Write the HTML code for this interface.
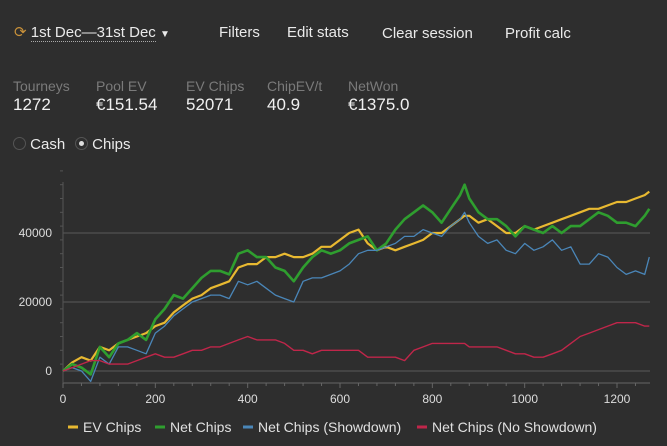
<!DOCTYPE html>
<html><head><meta charset="utf-8">
<style>
body{margin:0;background:#2e2e2e;width:667px;height:446px;overflow:hidden;font-family:"Liberation Sans",sans-serif;color:#e6e6e6}
.t{position:absolute;white-space:nowrap}
.lab{font-size:14px;color:#7a7a7a}
.val{font-size:17px;color:#f0f0f0}
.nav{font-size:15px;color:#eaeaea}
</style></head><body>
<div class="t nav" style="left:14px;top:23px">
<span style="color:#c8913a;font-size:15px">⟳</span> <span style="border-bottom:1px dotted #aaa">1st Dec—31st Dec</span> <span style="font-size:10px">▼</span></div>
<div class="t nav" style="left:219px;top:24px">Filters</div>
<div class="t nav" style="left:287px;top:24px">Edit stats</div>
<div class="t nav" style="left:382px;top:25px">Clear session</div>
<div class="t nav" style="left:505px;top:25px">Profit calc</div>

<div class="t lab" style="left:13px;top:78px">Tourneys</div>
<div class="t val" style="left:13px;top:95px">1272</div>
<div class="t lab" style="left:96px;top:78px">Pool EV</div>
<div class="t val" style="left:96px;top:95px">€151.54</div>
<div class="t lab" style="left:186px;top:78px">EV Chips</div>
<div class="t val" style="left:186px;top:95px">52071</div>
<div class="t lab" style="left:267px;top:78px">ChipEV/t</div>
<div class="t val" style="left:267px;top:95px">40.9</div>
<div class="t lab" style="left:348px;top:78px">NetWon</div>
<div class="t val" style="left:348px;top:95px">€1375.0</div>

<div class="t nav" style="left:13px;top:136px"><span style="display:inline-block;width:11px;height:11px;border:1px solid #555;border-radius:50%;vertical-align:-1px"></span> Cash</div>
<div class="t nav" style="left:75px;top:136px"><span style="display:inline-block;width:11px;height:11px;border:1px solid #555;border-radius:50%;vertical-align:-1px;position:relative"><span style="position:absolute;left:3px;top:3px;width:5px;height:5px;border-radius:50%;background:#ddd"></span></span> Chips</div>

<svg id="chart" width="667" height="446" style="position:absolute;left:0;top:0;pointer-events:none"></svg>
<script>
const xs=[0,20,40,60,80,100,120,140,160,180,200,220,240,260,280,300,320,340,360,380,400,420,440,460,480,500,520,540,560,580,600,620,640,660,680,700,720,740,760,780,800,820,840,860,870,880,900,920,940,960,980,1000,1020,1040,1060,1080,1100,1120,1140,1160,1180,1200,1220,1240,1260,1270];
const evChips=[0,2.5,4,3,7,6,8,9,10,11,13,14,17,19,21,22,24,25,26,30,31,31,33,33,34,33,33,34,36,36,38,40,41,37,35,36,35,36,37,38,40,40,42,44,45,45,43,44,42,40,40,42,41,42,43,44,45,46,47,47,48,49,49,50,51,52];
const netChips=[0,2,1,-1,7,4,8,9,11,9,15,18,22,21,24,27,29,29,28,34,35,33,33,30,29,26,30,33,35,34,35,37,38,39,35,37,41,44,46,48,46,43,47,51,54,50,46,44,44,42,39,42,41,40,42,40,42,42,44,46,45,43,43,42,45,47];
const netSD=[0,1,0,-3,4,2,7,7,6,5,11,13,16,18,20,21,22,22,21,26,25,26,24,22,21,20,26,27,27,28,29,31,34,35,35,36,37,39,39,41,40,39,42,44,46,43,39,37,38,35,34,37,35,36,38,35,36,31,31,34,33,30,28,29,28,33];
const netNoSD=[0,1,2,3,3,2,2,2,3,4,5,4,4,5,6,6,7,7,8,9,10,9,9,9,8,6,6,5,6,6,6,6,6,4,4,4,4,3,6,7,8,8,8,8,8,7,7,7,7,6,5,5,4,4,5,6,8,10,11,12,13,14,14,14,13,13];
const xTicks=[0,200,400,600,800,1000,1200];
const yTicks=[0,20000,40000];
const series=[["ev-chips-line",evChips,"#e8b931",2.2],["net-chips-line",netChips,"#2f9e2f",2.6],["net-chips-showdown-line",netSD,"#4a86b8",1.3],["net-chips-no-showdown-line",netNoSD,"#c0264a",1.4]];
const legend=[["EV Chips","#e8b931",68],["Net Chips","#2f9e2f",155],["Net Chips (Showdown)","#4a86b8",243],["Net Chips (No Showdown)","#c0264a",417]];
const NS="http://www.w3.org/2000/svg",svg=document.getElementById('chart');
const X=v=>63+v*(554/1200), Y=v=>371-v*0.00345;
function el(t,a,p){const e=document.createElementNS(NS,t);for(const k in a)e.setAttribute(k,a[k]);(p||svg).appendChild(e);return e;}
yTicks.forEach(v=>{
 const g=el('line',{x1:63,x2:650,y1:Y(v),y2:Y(v),stroke:'#5a5a5a','stroke-width':1});
 
 
 const t=el('text',{x:52,y:Y(v)+4,'text-anchor':'end',fill:'#ddd','font-size':12,'font-family':'Liberation Sans'});t.textContent=v;
 
 
});
const ax=el('line',{x1:63,x2:650,y1:383,y2:383,stroke:'#666'});


const ay=el('line',{x1:63,x2:63,y1:182,y2:383,stroke:'#555'});


for(let v=0;v<=1270;v+=40){const m=v%200===0;el('line',{x1:X(v),x2:X(v),y1:383,y2:m?388:386,stroke:'#666'});}
for(let v=2000;v<=58000;v+=4000){el('line',{x1:60,x2:63,y1:Y(v),y2:Y(v),stroke:'#555'});}
xTicks.forEach(v=>{const t=el('text',{x:X(v),y:403,'text-anchor':'middle',fill:'#ddd','font-size':12,'font-family':'Liberation Sans'});t.textContent=v;
 
 });
series.forEach(s=>{
 const p=el('polyline',{points:xs.map((x,i)=>X(x).toFixed(1)+','+Y(s[1][i]*1000).toFixed(1)).join(' '),fill:'none',stroke:s[2],'stroke-width':s[3],'stroke-linejoin':'round'});
 
 
});
legend.forEach(l=>{
 const g=el('g',{});
 
 
 el('line',{x1:l[2],x2:l[2]+10,y1:427,y2:427,stroke:l[1],'stroke-width':3},g);
 const t=el('text',{x:l[2]+15,y:432,fill:'#e0e0e0','font-size':14,'font-family':'Liberation Sans'},g);t.textContent=l[0];
});
</script>
</body></html>
